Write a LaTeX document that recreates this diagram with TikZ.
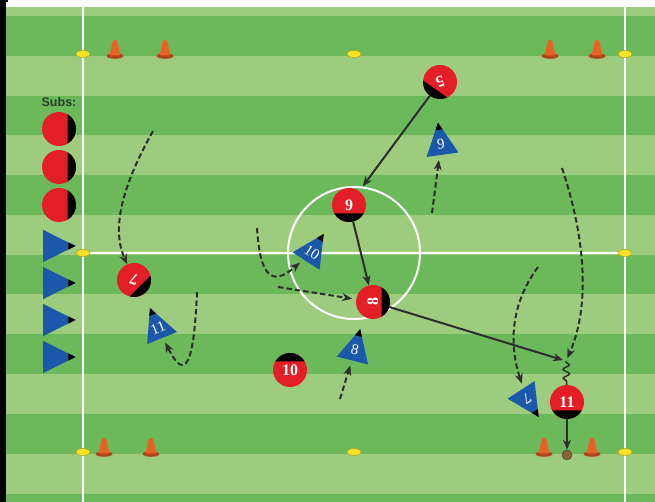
\documentclass[tikz,border=0pt]{standalone}
\usepackage{fontspec}
\setmainfont{Liberation Serif}
\setsansfont{Liberation Sans}
\usetikzlibrary{arrows.meta,decorations.pathmorphing}

\definecolor{pitchlight}{RGB}{157,204,126}
\definecolor{pitchdark}{RGB}{108,185,92}
\definecolor{tokred}{RGB}{228,30,38}
\definecolor{tokblue}{RGB}{28,88,170}
\definecolor{conecol}{RGB}{232,98,38}
\definecolor{conebase}{RGB}{176,70,28}
\definecolor{markyel}{RGB}{246,226,38}
\definecolor{inkline}{RGB}{45,45,45}
\definecolor{subsgreen}{RGB}{38,66,38}

\begin{document}
\begin{tikzpicture}[x=1pt,y=1pt,
  rnum/.style={circle,minimum size=34pt,inner sep=0pt,text=white,font=\fontsize{16}{16}\selectfont\bfseries},
  bnum/.style={circle,minimum size=32pt,inner sep=0pt,text=white,font=\fontsize{15}{15}\selectfont},
  ballnode/.style={circle,minimum size=10pt,inner sep=0pt,fill=brown!75!black,draw=black!70,line width=.6pt},
  pass/.style={draw=inkline,line width=2pt,-{Stealth[length=10pt,width=8pt]}},
  run/.style={pass,dash pattern=on 5.5pt off 3pt},
  dribble/.style={draw=inkline,line width=1.5pt,decorate,decoration={snake,amplitude=3.2pt,segment length=9pt,pre length=1pt,post length=1pt}},
  rtok/.pic={\fill[tokred] (0,0) circle (17);
    \fill[black] (-30:17) arc[start angle=-30,end angle=-150,radius=17] -- cycle;},
  btri/.pic={\fill[tokblue] (0:21.5) -- (124:19.4) -- (-124:19.4) -- cycle;
    \fill[black] (0:21.5) -- (14:14.8) -- (-14:14.8) -- cycle;},
  cone/.pic={\fill[conebase] (0,1) ellipse (8.5 and 2.8);
    \fill[conecol,rounded corners=1.2pt] (-5.5,1.5) -- (-2,17) -- (2,17) -- (5.5,1.5) -- cycle;}]
\useasboundingbox (0,0) rectangle (655,502);
% pitch
\fill[white] (0,0) rectangle (655,502);
\fill[pitchlight] (6,0) rectangle (655,495);
\foreach \k in {0,...,6}
  \fill[pitchdark] (6,{max(0,446.4-79.6*\k)}) rectangle (655,{486-79.6*\k});
\fill[black] (0,0) rectangle (6,502);
\fill[black] (0,500) rectangle (8,502);
\draw[white,line width=2pt] (83,0) -- (83,495);
\draw[white,line width=2pt] (625,0) -- (625,495);
\draw[white,line width=2pt] (83,249) -- (625,249);
\draw[white,line width=2pt] (354,249) circle (66);
% markers and cones
\foreach \mx/\my in {83/448,354/448,625/448,83/249,625/249,83/50,354/50,625/50}
  \filldraw[fill=markyel,draw=markyel!70!black,line width=.5pt] (\mx,\my) ellipse (7 and 3.5);
\foreach \cx/\cy in {115/445,165/445,550/445,597/445,104/47,151/47,544/47,592/47}
  \pic at (\cx,\cy) {cone};
% subs
\node[font=\sffamily\bfseries\fontsize{12.5}{12.5}\selectfont,text=subsgreen] (subs) at (59,400) {Subs:};
\foreach \sy in {373,335,297}
  \pic[rotate=90] at (59,\sy) {rtok};
\foreach \sy in {256,219,182,145}
  \pic at (54,\sy) {btri};
% red team
\pic[rotate=-35] at (440,420) {rtok};
\node[rnum,rotate=200] (r5) at (440,420) {5};
\pic at (349,297) {rtok};
\node[rnum] (r9) at (349,297) {9};
\pic[rotate=90] at (373,200) {rtok};
\node[rnum,rotate=90] (r8) at (373,200) {8};
\pic[rotate=45] at (134,222) {rtok};
\node[rnum,rotate=165] (r7) at (134,222) {7};
\pic[rotate=180] at (290,132) {rtok};
\node[rnum] (r10) at (290,132) {10};
\pic at (567,100) {rtok};
\node[rnum] (r11) at (567,100) {11};
\node[ballnode] (ball) at (567,47) {};
% blue team
\pic[rotate=98] at (441,358) {btri};
\node[bnum,rotate=8] (b9) at (441,358) {9};
\pic[rotate=57] at (312,250) {btri};
\node[bnum,rotate=-33] (b10) at (312,250) {10};
\pic[rotate=112] at (158,174) {btri};
\node[bnum,rotate=22] (b11) at (158,174) {11};
\pic[rotate=76] at (355,152) {btri};
\node[bnum,rotate=-14] (b8) at (355,152) {8};
\pic[rotate=-57] at (527,103) {btri};
\node[bnum,rotate=-147] (b7) at (527,103) {7};
% passes and dribble
\coordinate (drib) at (566,141);
\draw[pass,shorten >=6pt] (r5) -- (r9);
\draw[pass] (r9) -- (r8);
\draw[pass,shorten >=3pt] (r8) -- (drib);
\draw[dribble] (drib) -- (r11);
\draw[pass] (r11) -- (ball);
% runs
\coordinate (run7) at (153,371);
\coordinate (run11) at (197,210);
\coordinate (run10) at (257,274);
\coordinate (run8r) at (278,215);
\coordinate (run8b) at (340,103);
\coordinate (run9) at (432,289);
\coordinate (run7b) at (538,235);
\coordinate (rund) at (562,334);
\draw[run] (run7) .. controls (120,312) and (112,272) .. (r7);
\draw[run] (run11) .. controls (194,140) and (186,118) .. (b11);
\draw[run] (run10) .. controls (260,225) and (272,215) .. (b10);
\draw[run,shorten >=4pt] (run8r) -- (r8);
\draw[run] (run8b) -- (b8);
\draw[run] (run9) -- (b9);
\draw[run] (run7b) .. controls (512,200) and (508,160) .. (b7);
\draw[run,shorten >=3pt] (rund) .. controls (586,262) and (590,195) .. (drib);
\end{tikzpicture}
\end{document}
